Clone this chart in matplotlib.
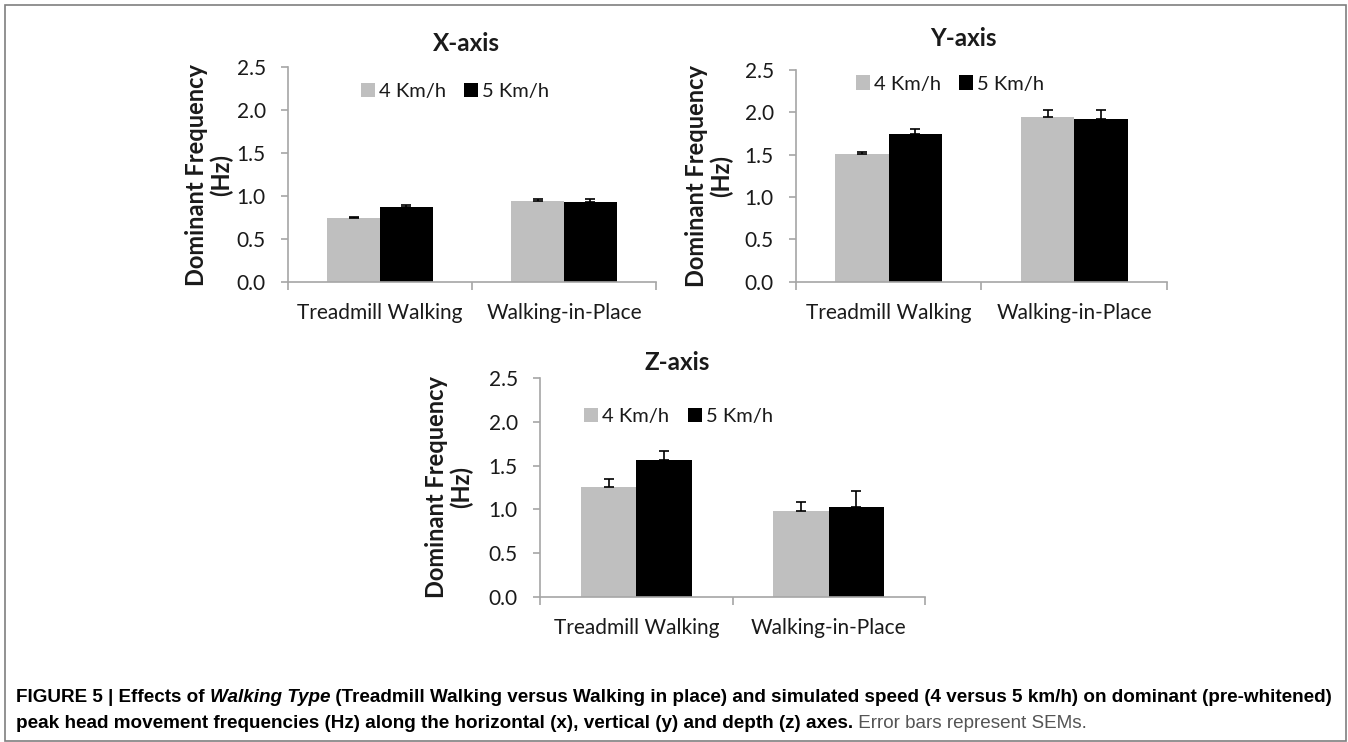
import matplotlib
matplotlib.use("Agg")
import matplotlib.pyplot as plt
from matplotlib.patches import Patch, Rectangle
from matplotlib import font_manager
import numpy as np

# ---- data ----
categories = ["Treadmill Walking", "Walking-in-Place"]
speeds = ["4 Km/h", "5 Km/h"]

x_axis_4 = [0.75, 0.945]
x_axis_5 = [0.875, 0.925]
x_axis_4_sem = [0.01, 0.015]
x_axis_5_sem = [0.015, 0.045]

y_axis_4 = [1.51, 1.94]
y_axis_5 = [1.75, 1.925]
y_axis_4_sem = [0.02, 0.09]
y_axis_5_sem = [0.05, 0.10]

z_axis_4 = [1.255, 0.98]
z_axis_5 = [1.565, 1.03]
z_axis_4_sem = [0.09, 0.11]
z_axis_5_sem = [0.10, 0.18]

y_ticks = [0.0, 0.5, 1.0, 1.5, 2.0, 2.5]

# ---- fonts ----
available = {f.name for f in font_manager.fontManager.ttflist}
chart_font = "Lato" if "Lato" in available else "DejaVu Sans"
caption_font = "Liberation Sans" if "Liberation Sans" in available else "DejaVu Sans"

plt.rcParams["font.family"] = [chart_font, "DejaVu Sans"]

W, H = 1348, 742
PT = 0.72  # points per pixel at 100 dpi
fig = plt.figure(figsize=(W / 100, H / 100), dpi=100)

AXIS_GRAY = "#A6A6A6"
BAR_GRAY = "#BFBFBF"
TEXT = "#1a1a1a"


def px_axes(left, top, right, bottom):
    return fig.add_axes([left / W, 1 - bottom / H, (right - left) / W, (bottom - top) / H])


def panel(box, title, title_x, title_pad_px, ylabel_px, v4, v5, e4, e5, leg_xy):
    ax = px_axes(*box)
    width_px = box[2] - box[0]
    idx = np.arange(len(categories)) + 0.5
    w = 0.288
    ax.bar(idx - w / 2, v4, width=w, color=BAR_GRAY, zorder=2)
    ax.bar(idx + w / 2, v5, width=w, color="black", zorder=2)
    for xs, vals, errs in ((idx - w / 2, v4, e4), (idx + w / 2, v5, e5)):
        ax.errorbar(xs, vals, yerr=[np.zeros(len(errs)), errs], fmt="none",
                    ecolor="black", elinewidth=1.2, capsize=3.5, capthick=1.2, zorder=3)
    ax.set_xlim(0, len(categories))
    ax.set_ylim(0, 2.5)
    ax.set_yticks(y_ticks)
    ax.set_yticklabels([f"{t:.1f}" for t in y_ticks])
    ax.set_xticks(np.arange(len(categories) + 1))
    ax.set_xticklabels([])
    ax.set_xticks(idx, minor=True)
    ax.set_xticklabels(categories, minor=True)
    ax.tick_params(axis="x", which="minor", length=0, pad=15, labelsize=15, labelcolor=TEXT)
    ax.tick_params(axis="x", which="major", length=6, width=1.2, color=AXIS_GRAY)
    ax.tick_params(axis="y", length=5, width=1.2, color=AXIS_GRAY, pad=11,
                   labelsize=15, labelcolor=TEXT)
    for s in ("top", "right"):
        ax.spines[s].set_visible(False)
    for s in ("left", "bottom"):
        ax.spines[s].set_color(AXIS_GRAY)
        ax.spines[s].set_linewidth(1.2)
    ax.set_title(title, x=title_x, pad=title_pad_px * PT, fontsize=17.5,
                 fontweight="bold", color=TEXT)
    ax.set_ylabel("Dominant Frequency\n(Hz)", fontsize=17, fontweight="bold",
                  color=TEXT, linespacing=1.05)
    ax.yaxis.set_label_coords(ylabel_px / width_px, 0.5)
    handles = [Patch(facecolor=BAR_GRAY, edgecolor="none"),
               Patch(facecolor="black", edgecolor="none")]
    ax.legend(handles, speeds, ncol=2, frameon=False, loc="center",
              bbox_to_anchor=leg_xy, fontsize=14.5, handlelength=0.7,
              handleheight=0.7, handletextpad=0.2, columnspacing=0.9,
              labelcolor=TEXT)
    return ax


panel((288, 67, 656, 282), "X-axis", 0.484, 16, -55,
      x_axis_4, x_axis_5, x_axis_4_sem, x_axis_5_sem, (0.454, 0.884))
panel((796, 70, 1167, 281.7), "Y-axis", 0.45, 24, -63,
      y_axis_4, y_axis_5, y_axis_4_sem, y_axis_5_sem, (0.415, 0.934))
panel((540, 377.7, 925, 597.3), "Z-axis", 0.356, 8, -67,
      z_axis_4, z_axis_5, z_axis_4_sem, z_axis_5_sem, (0.36, 0.825))

# outer frame
fig.patches.append(Rectangle((5 / W, 1.5 / H), 1340.5 / W, 735.5 / H,
                             transform=fig.transFigure, fill=False,
                             edgecolor="#7f7f7f", linewidth=1.2))

# ---- caption with mixed styles ----
renderer = fig.canvas.get_renderer()


def draw_runs(x0, y, runs, size=13.6):
    x = x0
    for text, weight, style, color in runs:
        t = fig.text(x / W, 1 - y / H, text, fontsize=size, fontweight=weight,
                     fontstyle=style, color=color, family=[caption_font, "DejaVu Sans"],
                     va="baseline", ha="left")
        bb = t.get_window_extent(renderer=renderer)
        x += bb.width


draw_runs(16, 702, [
    ("FIGURE 5 | Effects of ", "bold", "normal", "black"),
    ("Walking Type", "bold", "italic", "black"),
    (" (Treadmill Walking versus Walking in place) and simulated speed (4 versus 5 km/h) "
     "on dominant (pre-whitened)", "bold", "normal", "black"),
])
draw_runs(16, 728, [
    ("peak head movement frequencies (Hz) along the horizontal (x), vertical (y) and "
     "depth (z) axes.", "bold", "normal", "black"),
    (" Error bars represent SEMs.", "normal", "normal", "#555555"),
])

fig.savefig("out.png", dpi=100, facecolor="white")
